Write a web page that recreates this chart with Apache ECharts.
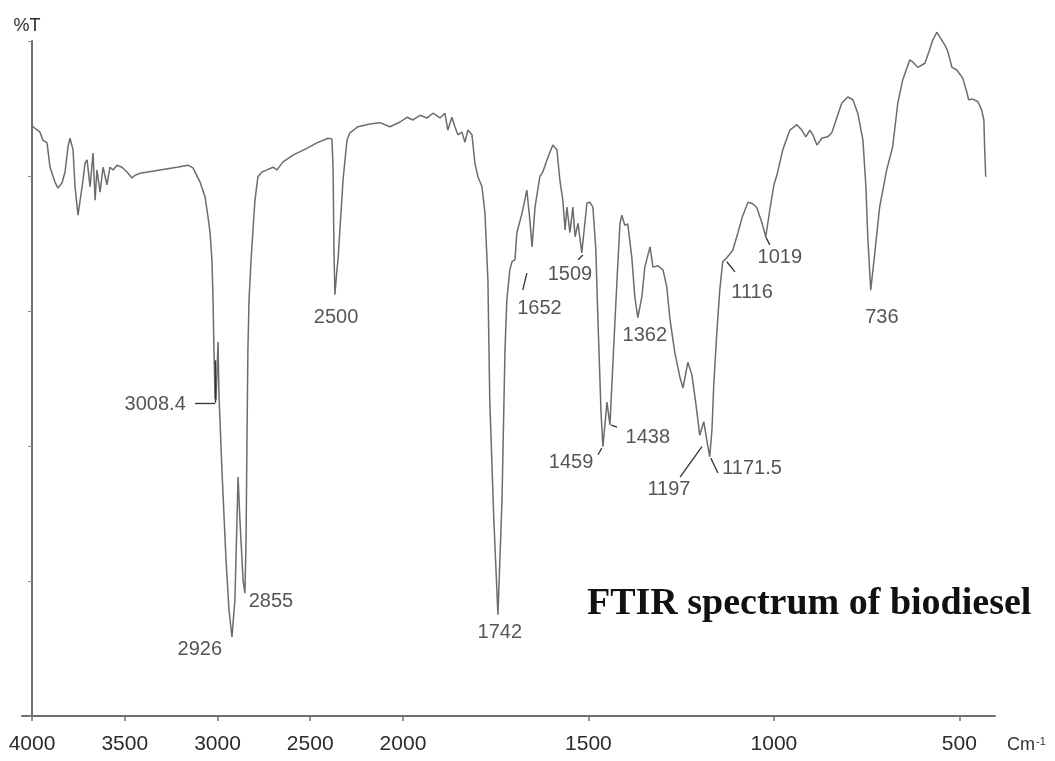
<!DOCTYPE html>
<html>
<head>
<meta charset="utf-8">
<script src="https://cdn.jsdelivr.net/npm/echarts@6/dist/echarts.min.js"></script>
<style>
  html, body { margin: 0; padding: 0; background: #fff; }
  #chart { width: 1055px; height: 761px; }
</style>
</head>
<body>
<div id="chart"></div>
<script>
// wavenumber (cm-1) and %T
const wavenumber = [
  4000, 3995, 3957, 3941, 3919, 3903, 3876, 3860, 3838, 3822, 3806, 3795, 3779, 3768, 3752, 3730,
  3714, 3703, 3687, 3671, 3660, 3650, 3633, 3617, 3596, 3580, 3563, 3542, 3515, 3488, 3461, 3445,
  3418, 3310, 3218, 3159, 3132, 3094, 3067, 3051, 3040, 3030, 3024, 3019, 3013, 3008, 2997, 2992,
  2976, 2954, 2938, 2922, 2906, 2895, 2889, 2879, 2862, 2852, 2846, 2841, 2836, 2830, 2819, 2798,
  2782, 2760, 2733, 2701, 2679, 2647, 2593, 2518, 2464, 2404, 2383, 2377, 2372, 2367, 2356, 2350,
  2340, 2323, 2302, 2286, 2242, 2178, 2124, 2070, 2016, 1989, 1973, 1954, 1935, 1919, 1900, 1887,
  1879, 1868, 1860, 1852, 1841, 1833, 1825, 1814, 1806, 1798, 1787, 1779, 1771, 1766, 1755, 1744,
  1733, 1725, 1720, 1712, 1706, 1698, 1693, 1679, 1666, 1658, 1652, 1644, 1631, 1623, 1609, 1596,
  1585, 1577, 1569, 1563, 1558, 1550, 1542, 1536, 1528, 1518, 1504, 1496, 1488, 1480, 1475, 1466,
  1461, 1450, 1442, 1434, 1423, 1415, 1410, 1402, 1394, 1383, 1375, 1367, 1356, 1348, 1334, 1326,
  1313, 1299, 1289, 1280, 1267, 1253, 1245, 1232, 1221, 1210, 1200, 1189, 1181, 1173, 1167, 1162,
  1154, 1146, 1138, 1127, 1111, 1097, 1086, 1070, 1057, 1046, 1032, 1022, 1011, 1000, 992, 976,
  957, 938, 925, 914, 903, 895, 884, 871, 855, 844, 830, 817, 801, 787, 774, 760,
  752, 747, 739, 728, 715, 696, 680, 666, 653, 634, 626, 612, 593, 582, 572, 561,
  553, 539, 531, 520, 507, 491, 480, 475, 464, 450, 440, 434, 432, 429
];
const transmittance = [
  87.6, 87.3, 86.5, 85.3, 84.9, 81.3, 79.1, 78.2, 79.0, 80.6, 84.3, 85.6, 83.9, 78.4, 74.2, 78.4,
  81.9, 82.4, 78.4, 83.4, 76.4, 80.9, 77.6, 81.3, 78.7, 81.3, 80.9, 81.6, 81.3, 80.6, 79.7, 80.1,
  80.4, 80.9, 81.3, 81.6, 81.2, 79.1, 76.9, 73.9, 71.6, 67.6, 61.6, 54.2, 47.1, 46.8, 55.4, 47.6,
  36.4, 23.1, 15.7, 11.7, 17.2, 29.0, 35.4, 29.0, 20.1, 18.2, 26.1, 40.9, 54.2, 61.6, 67.6, 76.4,
  79.9, 80.6, 80.9, 81.3, 80.9, 82.1, 83.1, 84.1, 84.9, 85.6, 85.5, 81.3, 69.0, 62.4, 66.1, 67.6,
  72.0, 79.4, 85.3, 86.4, 87.3, 87.7, 87.9, 87.3, 88.0, 88.7, 88.3, 89.0, 88.6, 89.3, 88.6, 89.3,
  86.8, 88.7, 87.3, 86.1, 86.5, 85.0, 86.8, 86.1, 81.9, 79.9, 78.4, 74.5, 64.6, 46.8, 29.0, 15.0,
  32.0, 54.2, 61.6, 66.1, 67.3, 67.6, 71.6, 74.5, 77.9, 73.5, 69.5, 75.4, 79.9, 80.6, 82.8, 84.6,
  83.9, 79.4, 76.4, 72.0, 75.4, 71.6, 75.4, 71.0, 73.0, 68.6, 76.0, 76.1, 75.4, 69.0, 59.7, 44.9,
  39.9, 46.5, 43.1, 52.3, 64.6, 73.0, 74.2, 72.7, 72.9, 67.9, 62.1, 59.0, 62.1, 66.5, 69.5, 66.5,
  66.7, 66.1, 63.6, 58.7, 53.8, 50.1, 48.6, 52.4, 50.5, 46.1, 41.6, 43.6, 40.9, 38.4, 42.4, 49.3,
  56.7, 63.1, 67.3, 67.9, 69.0, 71.6, 73.8, 76.1, 75.9, 75.3, 73.0, 71.0, 75.0, 78.7, 80.1, 83.9,
  86.8, 87.6, 86.8, 85.8, 86.8, 86.1, 84.6, 85.6, 85.8, 86.4, 88.7, 90.8, 91.7, 91.3, 89.3, 85.3,
  78.4, 71.0, 63.1, 68.6, 75.4, 80.9, 84.3, 90.8, 94.2, 97.2, 96.9, 96.1, 96.7, 98.4, 100.1, 101.3,
  100.6, 99.4, 98.4, 96.1, 95.7, 94.5, 92.4, 91.3, 91.4, 91.0, 89.8, 88.3, 84.3, 79.9
];

// x-axis tick labels (cm-1)
const tickWavenumbers = [4000, 3500, 3000, 2500, 2000, 1500, 1000, 500];

// peak annotations: text and where the text sits
const peakText = ['3008.4', '2926', '2855', '2500', '1742', '1652', '1509', '1459', '1438', '1362', '1197', '1171.5', '1116', '1019', '736'];
const peakLabelWn = [3336, 3095, 2712, 2361, 1739, 1632, 1550, 1547, 1340, 1348, 1283, 1059, 1059, 984, 709];
const peakLabelT = [46.1, 9.8, 16.9, 59.0, 12.4, 60.4, 65.4, 37.5, 41.3, 56.3, 33.5, 36.7, 62.7, 68.0, 59.1];

// short pointer lines from labels to peaks: [wn1, t1, wn2, t2]
const leaders = [
  [3121, 46.4, 3013, 46.4],
  [3013, 46.4, 3013, 52.7],
  [1677, 63.1, 1666, 65.6],
  [1528, 67.6, 1515, 68.3],
  [1474, 38.7, 1464, 39.7],
  [1439, 43.1, 1423, 42.8],
  [1253, 35.4, 1194, 39.9],
  [1170, 38.2, 1151, 36.0],
  [1127, 67.3, 1105, 65.8],
  [1022, 71.0, 1011, 69.8]
];

// the axis is compressed 2x above 2000 cm-1, as on the instrument print-out
const toAxis = wn => wn >= 2000 ? (4000 - wn) / 2 : 1000 + (2000 - wn);
const fromAxis = u => u <= 1000 ? 4000 - 2 * u : 2000 - (u - 1000);

const spectrum = wavenumber.map((wn, i) => [toAxis(wn), transmittance[i]]);
const peakLabels = peakText.map((t, i) => ({ name: t, value: [toAxis(peakLabelWn[i]), peakLabelT[i]] }));
const tickValues = tickWavenumbers.map(toAxis);

const chart = echarts.init(document.getElementById('chart'));

const options = {
  animation: false,
  grid: { left: 22, right: 60, top: 41, bottom: 45 },
  xAxis: {
    type: 'value',
    min: -27,
    max: 2596,
    name: 'Cm{sup|-1}',
    nameLocation: 'end',
    nameGap: 12,
    nameTextStyle: {
      color: '#333',
      fontSize: 18,
      fontFamily: 'Liberation Sans',
      verticalAlign: 'top',
      padding: [20, 0, 0, 0],
      rich: {
        sup: { fontSize: 11, color: '#333', verticalAlign: 'top', padding: [0, 0, 8, 1] }
      }
    },
    axisLine: { lineStyle: { color: '#6f6f6f', width: 2 } },
    axisTick: { show: true, length: 5, customValues: tickValues, lineStyle: { color: '#6f6f6f', width: 1.5 } },
    axisLabel: {
      customValues: tickValues,
      formatter: v => String(Math.round(fromAxis(v))),
      color: '#2b2b2b',
      fontSize: 21,
      fontFamily: 'Liberation Sans',
      margin: 18
    },
    splitLine: { show: false }
  },
  yAxis: {
    type: 'value',
    min: 0,
    max: 100,
    interval: 20,
    offset: -10,
    name: '%T',
    nameLocation: 'end',
    nameGap: 6,
    nameTextStyle: { color: '#2b2b2b', fontSize: 18, fontFamily: 'Liberation Sans', padding: [0, 10, 0, 0] },
    axisLine: { show: true, lineStyle: { color: '#6f6f6f', width: 2 } },
    axisTick: { show: true, length: 4, lineStyle: { color: '#8a8a8a', width: 1 } },
    axisLabel: { show: false },
    splitLine: { show: false }
  },
  graphic: [{
    type: 'text',
    left: 587,
    top: 585,
    style: {
      text: 'FTIR spectrum of biodiesel',
      font: 'bold 38px "Liberation Serif", "Times New Roman", serif',
      fill: '#111'
    }
  }],
  series: [
    {
      name: 'FTIR',
      type: 'line',
      data: spectrum,
      showSymbol: false,
      clip: false,
      lineStyle: { color: '#6c6c6c', width: 1.5 },
      markLine: {
        silent: true,
        symbol: 'none',
        label: { show: false },
        lineStyle: { color: '#333', width: 1.3, type: 'solid' },
        data: leaders.map(l => [{ coord: [toAxis(l[0]), l[1]] }, { coord: [toAxis(l[2]), l[3]] }])
      }
    },
    {
      name: 'peaks',
      type: 'scatter',
      data: peakLabels,
      symbolSize: 0,
      silent: true,
      label: {
        show: true,
        position: 'inside',
        formatter: p => p.name,
        color: '#2b2b2b',
        fontSize: 20,
        fontFamily: 'Liberation Sans'
      }
    }
  ]
};

chart.setOption(options);

window.addEventListener('resize', () => {
  chart.resize();
});
</script>
</body>
</html>
